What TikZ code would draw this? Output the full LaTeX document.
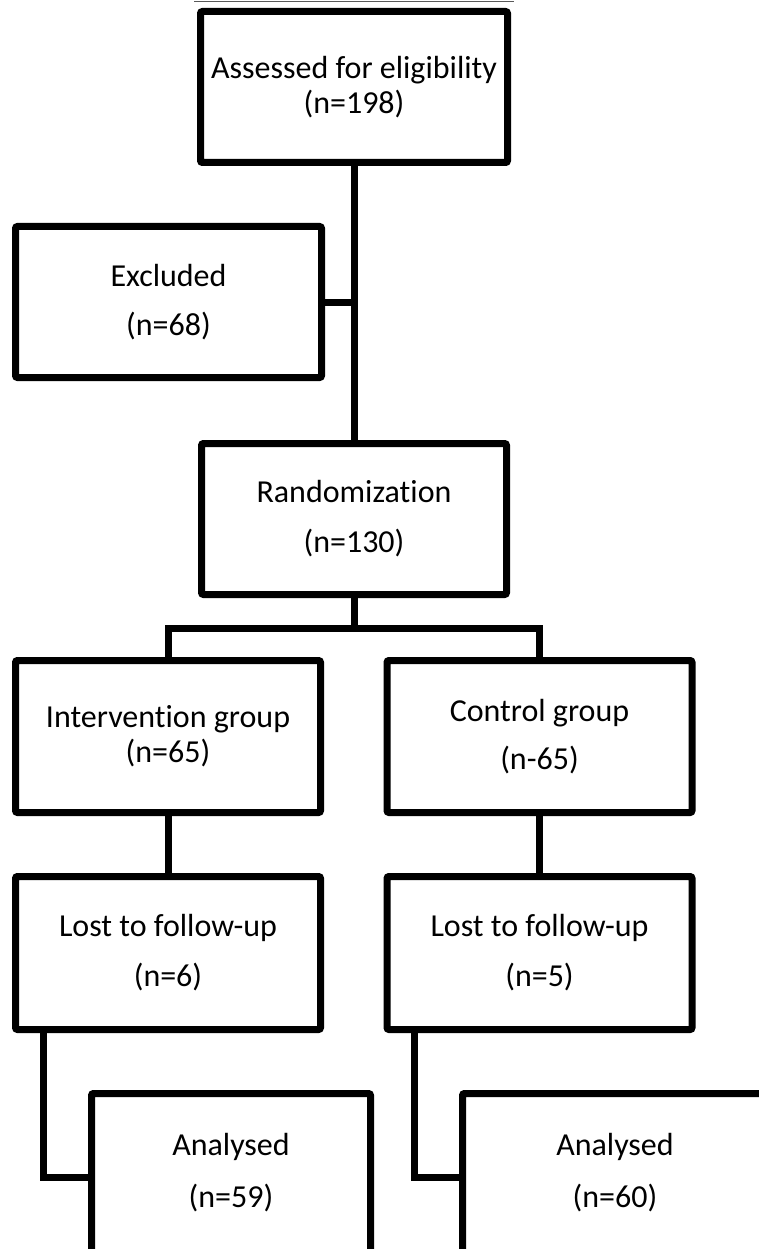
\documentclass[tikz,border=0pt]{standalone}
\usepackage{fontspec}
\setmainfont{Carlito}[Ligatures={NoCommon}]
\usetikzlibrary{shadows,calc}
\begin{document}
\begin{tikzpicture}[x=1pt,y=-1pt,
  flowbox/.style={draw=black, line width=7pt, fill=white, rounded corners=2pt,
    minimum width=305pt, minimum height=151pt, inner sep=0pt, align=center,
    font=\fontsize{32}{38}\selectfont,
    drop shadow={shadow xshift=2pt, shadow yshift=-3pt, opacity=0.25}},
  link/.style={line width=7pt, draw=black, line join=miter},
  edgeline/.style={line width=1.2pt, draw=black!65}]
\fill[white] (0,0) rectangle (759,1249);
\useasboundingbox (0,0) rectangle (759,1249);
\clip (0,0) rectangle (759,1249);

\node[flowbox, minimum width=307pt] (assess) at (354,87) {Assessed for eligibility\\[-3pt](n=198)};
\node[flowbox, minimum width=306pt] (excl) at (168.5,302) {Excluded\\[11pt](n=68)};
\node[flowbox] (rand) at (354,519) {Randomization\\[12pt](n=130)};
\node[flowbox, minimum height=152pt] (interv) at (168,736.5) {Intervention group\\[-3pt](n=65)};
\node[flowbox, minimum height=152pt] (ctrl) at (539.5,736.5) {Control group\\[10pt](n-65)};
\node[flowbox, minimum height=153pt] (lostA) at (168,953) {Lost to follow-up\\[12pt](n=6)};
\node[flowbox, minimum height=153pt] (lostB) at (539.5,953) {Lost to follow-up\\[12pt](n=5)};
\node[flowbox, minimum width=279pt, minimum height=159pt] (anA) at (231,1173) {Analysed\\[14pt](n=59)};
\node[flowbox, minimum height=159pt] (anB) at (615,1173) {Analysed\\[14pt](n=60)};

% thin edge lines where the picture is cut
\draw[edgeline] ([xshift=-3pt,yshift=6.5pt]assess.north west) -- ([xshift=3pt,yshift=6.5pt]assess.north east);
\draw[edgeline] ([xshift=-3pt,yshift=6.5pt]anA.south west) -- ([xshift=3pt,yshift=6.5pt]anA.south east);
\draw[edgeline] ([xshift=-3pt,yshift=6.5pt]anB.south west) -- ([xshift=3pt,yshift=6.5pt]anB.south east);

\coordinate (br) at (354,628.5);
\draw[link] (assess.south) -- (rand.north);
\draw[link] (excl.east) -- (excl.east -| assess.south);
\draw[link] (rand.south) -- (br);
\draw[link] (interv.north) |- (br) -| (ctrl.north);
\draw[link] (interv.south) -- (lostA.north);
\draw[link] (ctrl.south) -- (lostB.north);
\draw[link] ([xshift=31.5pt]lostA.south west) |- ([yshift=-4pt]anA.west);
\draw[link] ([xshift=30.5pt]lostB.south west) |- ([yshift=-4pt]anB.west);
\end{tikzpicture}
\end{document}
